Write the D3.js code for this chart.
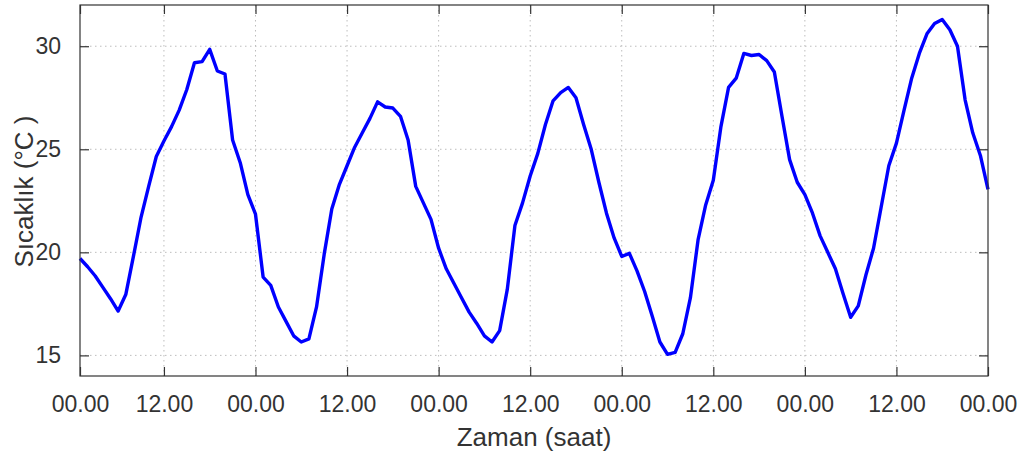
<!DOCTYPE html>
<html lang="tr">
<head>
    <meta charset="UTF-8">
    <title>Sıcaklık</title>
    <script src="https://d3js.org/d3.v7.min.js"></script>
    <style>
        body { margin: 0; background: #fff; }
        text { font-family: "Liberation Sans", Arial, Helvetica, sans-serif; fill: #333; }
    </style>
</head>
<body>
<svg width="1025" height="459"></svg>
<script>
    // hourly temperature (°C), one array per day
    var day1 = [19.7, 19.3, 18.85, 18.3, 17.75, 17.15, 17.95, 19.8, 21.7, 23.2, 24.65, 25.4,
        26.1, 26.9, 27.9, 29.2, 29.25, 29.85, 28.8, 28.65, 25.45, 24.35, 22.8, 21.85];
    var day2 = [18.8, 18.4, 17.35, 16.65, 15.95, 15.65, 15.8, 17.35, 19.9, 22.1, 23.3, 24.2,
        25.1, 25.8, 26.5, 27.3, 27.05, 27.0, 26.6, 25.45, 23.2, 22.4, 21.6, 20.2];
    var day3 = [19.2, 18.5, 17.8, 17.1, 16.55, 15.95, 15.65, 16.2, 18.2, 21.3, 22.4, 23.7,
        24.8, 26.2, 27.35, 27.75, 28.0, 27.5, 26.2, 25.0, 23.4, 21.9, 20.7, 19.8];
    var day4 = [19.95, 19.1, 18.1, 16.9, 15.65, 15.05, 15.15, 16.05, 17.8, 20.6, 22.3, 23.5,
        26.1, 28.0, 28.45, 29.65, 29.55, 29.6, 29.3, 28.75, 26.6, 24.5, 23.4, 22.8];
    var day5 = [21.9, 20.8, 20.0, 19.2, 18.0, 16.85, 17.4, 18.9, 20.2, 22.2, 24.2, 25.3,
        26.9, 28.45, 29.65, 30.6, 31.1, 31.3, 30.8, 30.0, 27.4, 25.8, 24.7, 23.05];

    var xTicks = [1, 12, 24, 36, 48, 60, 72, 84, 96, 108, 120];
    var xTickLabels = ["00.00", "12.00", "00.00", "12.00", "00.00", "12.00",
        "00.00", "12.00", "00.00", "12.00", "00.00"];
    var yTicks = [15, 20, 25, 30];

    var temps = day1.concat(day2, day3, day4, day5);
    var data = temps.map(function (t, i) { return {hour: i + 1, temp: t}; });

    var svg = d3.select("svg");
    var plotLeft = 80, plotRight = 988, plotTop = 5, plotBottom = 376;
    var tickLen = 9;

    var x = d3.scaleLinear().domain([1, 120]).range([plotLeft, plotRight]);
    var y = d3.scaleLinear().domain([14, 32]).range([plotBottom, plotTop]);

    // dotted grid
    svg.append("g").selectAll("line")
        .data(xTicks.slice(1, -1))
        .enter().append("line")
        .attr("x1", function (d) { return x(d); })
        .attr("x2", function (d) { return x(d); })
        .attr("y1", plotTop).attr("y2", plotBottom)
        .attr("stroke", "#bdbdbd")
        .attr("stroke-width", 1)
        .attr("stroke-dasharray", "1.5,3.5");

    svg.append("g").selectAll("line")
        .data(yTicks)
        .enter().append("line")
        .attr("x1", plotLeft).attr("x2", plotRight)
        .attr("y1", function (d) { return y(d); })
        .attr("y2", function (d) { return y(d); })
        .attr("stroke", "#bdbdbd")
        .attr("stroke-width", 1)
        .attr("stroke-dasharray", "1.5,3.5");

    // the line
    var line = d3.line()
        .x(function (d) { return x(d.hour); })
        .y(function (d) { return y(d.temp); });

    svg.append("path")
        .datum(data)
        .attr("fill", "none")
        .attr("stroke", "#0000ff")
        .attr("stroke-width", 3.4)
        .attr("stroke-linejoin", "round")
        .attr("d", line);

    // axes, ticks pointing inwards on all four sides
    var bottomAxis = d3.axisBottom(x).tickValues(xTicks)
        .tickFormat(function (d, i) { return xTickLabels[i]; })
        .tickSizeInner(-tickLen).tickSizeOuter(0).tickPadding(20);
    var topAxis = d3.axisTop(x).tickValues(xTicks)
        .tickFormat("").tickSizeInner(-tickLen).tickSizeOuter(0);
    var leftAxis = d3.axisLeft(y).tickValues(yTicks)
        .tickSizeInner(-tickLen).tickSizeOuter(0).tickPadding(19);
    var rightAxis = d3.axisRight(y).tickValues(yTicks)
        .tickFormat("").tickSizeInner(-tickLen).tickSizeOuter(0);

    function style(g) {
        g.select(".domain").remove();
        g.selectAll(".tick line").attr("stroke", "#333").attr("stroke-width", 1.2);
        g.selectAll(".tick text")
            .attr("fill", "#333")
            .style("font-size", "23px")
            .style("font-family", '"Liberation Sans", Arial, sans-serif');
    }

    svg.append("g").attr("transform", "translate(0," + plotBottom + ")").call(bottomAxis).call(style);
    svg.append("g").attr("transform", "translate(0," + plotTop + ")").call(topAxis).call(style);
    svg.append("g").attr("transform", "translate(" + plotLeft + ",0)").call(leftAxis).call(style);
    svg.append("g").attr("transform", "translate(" + plotRight + ",0)").call(rightAxis).call(style);

    svg.append("rect")
        .attr("x", plotLeft).attr("y", plotTop)
        .attr("width", plotRight - plotLeft).attr("height", plotBottom - plotTop)
        .attr("fill", "none")
        .attr("stroke", "#333")
        .attr("stroke-width", 1.2);

    // axis titles
    svg.append("text")
        .attr("x", (plotLeft + plotRight) / 2)
        .attr("y", 446)
        .attr("text-anchor", "middle")
        .style("font-size", "26px")
        .text("Zaman (saat)");

    svg.append("text")
        .attr("transform", "translate(33," + ((plotTop + plotBottom) / 2 + 1) + ") rotate(-90)")
        .attr("text-anchor", "middle")
        .style("font-size", "26px")
        .text("Sıcaklık (°C )");
</script>
</body>
</html>
